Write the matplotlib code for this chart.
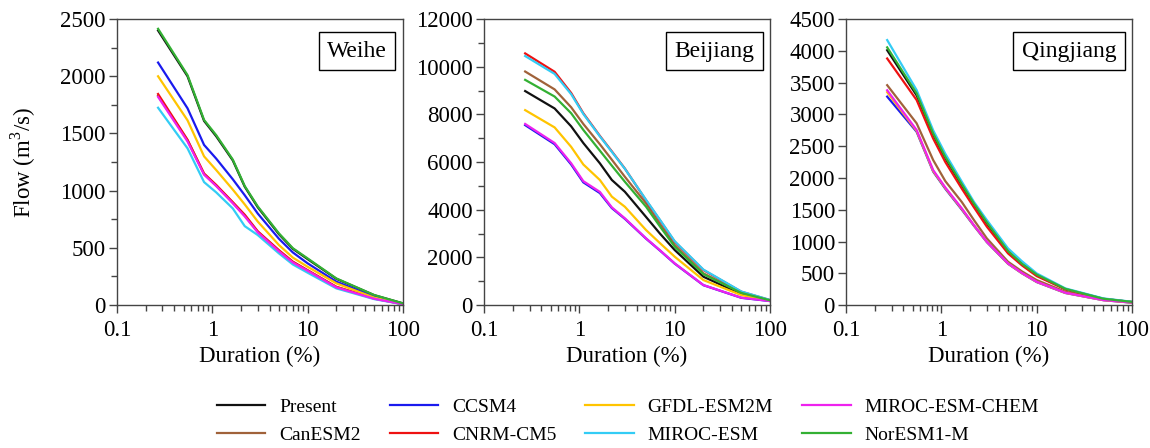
import matplotlib
matplotlib.use("Agg")
import matplotlib.pyplot as plt
from matplotlib.ticker import NullFormatter, LogLocator, MultipleLocator

plt.rcParams['font.family'] = ['Liberation Serif', 'DejaVu Serif']
plt.rcParams['mathtext.fontset'] = 'custom'
plt.rcParams['mathtext.rm'] = 'Liberation Serif'

DURATION = [0.27, 0.55, 0.82, 1.1, 1.64, 2.19, 3.0, 5.0, 7.0, 10, 20, 50, 100]

SERIES = ["Present", "CanESM2", "CCSM4", "CNRM-CM5", "GFDL-ESM2M",
          "MIROC-ESM", "MIROC-ESM-CHEM", "NorESM1-M"]
COLORS = ["#111111", "#a0623a", "#1a1aee", "#ee1111", "#ffc400",
          "#33ccf5", "#ee22ee", "#33b033"]

RIVERS = ["Weihe", "Beijiang", "Qingjiang"]

weihe_present = [2400, 2000, 1610, 1475, 1265, 1035, 855, 620, 492, 402, 230, 86, 15]
weihe_canesm2 = [1830, 1440, 1145, 1045, 895, 782, 640, 475, 376, 303, 158, 57, 8]
weihe_ccsm4 = [2120, 1720, 1400, 1280, 1100, 960, 800, 580, 460, 365, 205, 73, 12]
weihe_cnrm = [1845, 1445, 1150, 1050, 900, 790, 645, 480, 380, 305, 160, 58, 8]
weihe_gfdl = [2000, 1615, 1300, 1180, 1010, 880, 730, 525, 415, 335, 190, 65, 10]
weihe_miroc = [1725, 1370, 1075, 985, 845, 690, 612, 452, 355, 283, 146, 52, 7]
weihe_mirocchem = [1820, 1430, 1140, 1040, 890, 775, 635, 470, 372, 300, 155, 55, 8]
weihe_noresm = [2415, 2010, 1618, 1485, 1272, 1040, 862, 627, 497, 408, 233, 88, 15]

beijiang_present = [8980, 8250, 7500, 6800, 5950, 5250, 4756, 3700, 3000, 2310, 1190, 460, 190]
beijiang_canesm2 = [9800, 9050, 8300, 7600, 6750, 6100, 5385, 4270, 3400, 2520, 1330, 520, 200]
beijiang_ccsm4 = [7550, 6750, 5900, 5150, 4700, 4070, 3620, 2790, 2290, 1740, 835, 305, 168]
beijiang_cnrm = [10560, 9790, 8900, 8050, 7100, 6450, 5730, 4400, 3560, 2660, 1470, 560, 210]
beijiang_gfdl = [8180, 7455, 6640, 5900, 5250, 4550, 4126, 3150, 2600, 2030, 1050, 420, 180]
beijiang_miroc = [10450, 9700, 8850, 8020, 7080, 6430, 5720, 4420, 3580, 2680, 1490, 570, 215]
beijiang_mirocchem = [7600, 6800, 5950, 5200, 4750, 4100, 3640, 2800, 2300, 1750, 840, 310, 170]
beijiang_noresm = [9450, 8750, 8050, 7350, 6480, 5850, 5175, 4130, 3300, 2450, 1300, 510, 200]

qing_present = [4010, 3300, 2680, 2310, 1880, 1590, 1285, 840, 645, 472, 250, 98, 48]
qing_canesm2 = [3460, 2860, 2282, 1950, 1620, 1340, 1049, 682, 530, 393, 210, 85, 42]
qing_ccsm4 = [3280, 2727, 2100, 1830, 1500, 1250, 990, 650, 500, 362, 190, 77, 38]
qing_cnrm = [3880, 3226, 2620, 2250, 1830, 1540, 1233, 813, 625, 456, 247, 97, 48]
qing_gfdl = [3350, 2740, 2110, 1840, 1510, 1255, 995, 653, 502, 365, 192, 78, 39]
qing_miroc = [4170, 3383, 2750, 2380, 1940, 1626, 1337, 892, 690, 498, 262, 105, 52]
qing_mirocchem = [3380, 2754, 2124, 1850, 1520, 1260, 997, 656, 505, 367, 194, 79, 40]
qing_noresm = [4055, 3330, 2700, 2330, 1900, 1600, 1300, 850, 650, 480, 255, 100, 50]

DATA = {
    "Weihe": [weihe_present, weihe_canesm2, weihe_ccsm4, weihe_cnrm,
              weihe_gfdl, weihe_miroc, weihe_mirocchem, weihe_noresm],
    "Beijiang": [beijiang_present, beijiang_canesm2, beijiang_ccsm4, beijiang_cnrm,
                 beijiang_gfdl, beijiang_miroc, beijiang_mirocchem, beijiang_noresm],
    "Qingjiang": [qing_present, qing_canesm2, qing_ccsm4, qing_cnrm,
                  qing_gfdl, qing_miroc, qing_mirocchem, qing_noresm],
}

YLIM = {"Weihe": (0, 2500, 500, 250), "Beijiang": (0, 12000, 2000, 1000),
        "Qingjiang": (0, 4500, 500, None)}

fig = plt.figure(figsize=(11.5, 4.48), dpi=100)
lefts = [0.1017, 0.4209, 0.7357]
spine_c = "#444444"
handles = []
for i, river in enumerate(RIVERS):
    ax = fig.add_axes([lefts[i], 0.319, 0.2487, 0.6384])
    for name, col, vals in zip(SERIES, COLORS, DATA[river]):
        h, = ax.plot(DURATION, vals, color=col, lw=1.6, label=name)
        if i == 0:
            handles.append(h)
    ax.set_xscale("log")
    ax.set_xlim(0.1, 100)
    ax.set_xticks([0.1, 1, 10, 100])
    ax.set_xticklabels(["0.1", "1", "10", "100"])
    ax.xaxis.set_minor_locator(LogLocator(base=10, subs=range(2, 10)))
    ax.xaxis.set_minor_formatter(NullFormatter())
    lo, hi, step, minor = YLIM[river]
    ax.set_ylim(lo, hi)
    ax.yaxis.set_major_locator(MultipleLocator(step))
    if minor:
        ax.yaxis.set_minor_locator(MultipleLocator(minor))
    ax.tick_params(axis="both", which="major", direction="out", length=6,
                   width=1, colors=spine_c, labelcolor="black", labelsize=16.5, pad=2)
    ax.tick_params(axis="both", which="minor", direction="out", length=4,
                   width=1, colors=spine_c)
    ax.tick_params(axis="x", which="major", pad=5)
    for s in ax.spines.values():
        s.set_color(spine_c)
        s.set_linewidth(1.0)
    ax.set_xlabel("Duration (%)", fontsize=16.5, labelpad=3)
    if i == 0:
        ax.set_ylabel("Flow (m$^3$/s)", fontsize=16.5, labelpad=16)
    ax.text(0.945, 0.925, river, transform=ax.transAxes, ha="right", va="top",
            fontsize=17,
            bbox=dict(boxstyle="square,pad=0.35", fc="white", ec="black", lw=1))

fig.legend(handles=handles, loc="center", bbox_to_anchor=(0.546, 0.06), ncol=4,
           frameon=False, fontsize=14, handlelength=2.5, columnspacing=1.5,
           labelspacing=0.5, handletextpad=0.7)

fig.savefig("out.png", dpi=100)
